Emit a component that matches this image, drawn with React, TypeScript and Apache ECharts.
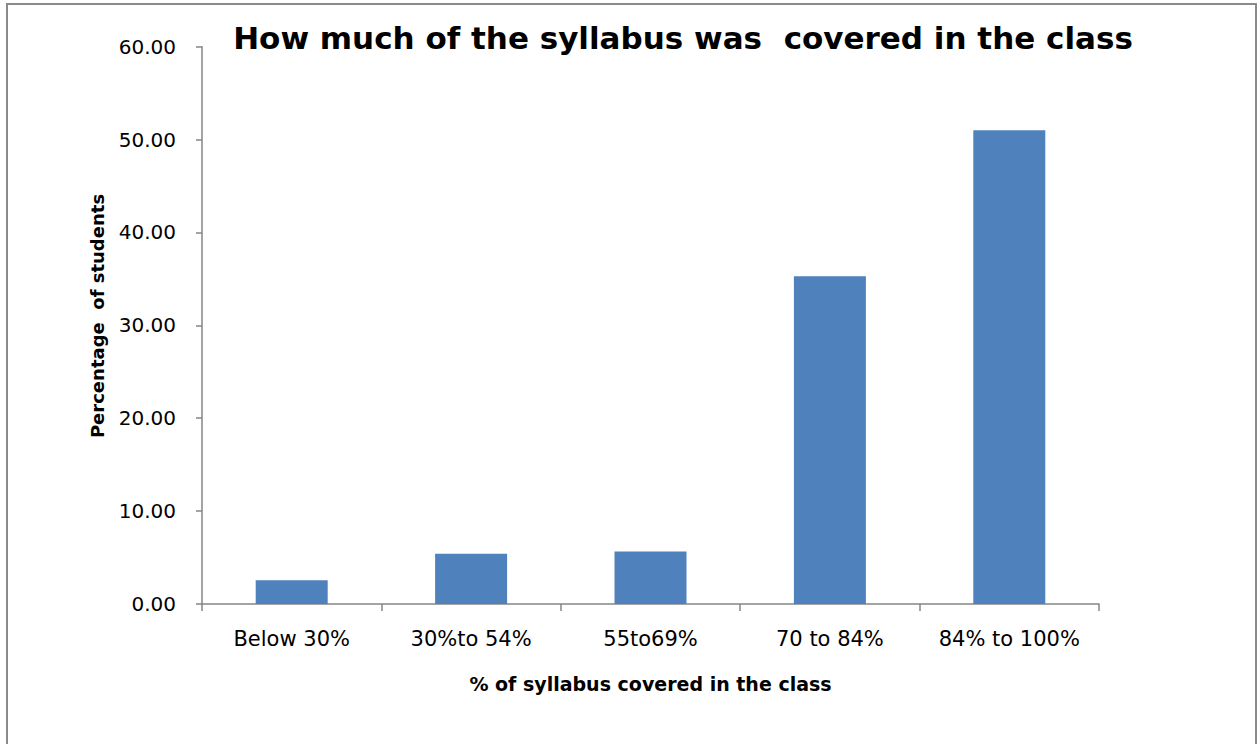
import React, { useEffect, useRef } from "react";
import * as echarts from "echarts";

const categories = ["Below 30%", "30%to 54%", "55to69%", "70 to 84%", "84% to 100%"];
const values = [2.56, 5.42, 5.64, 35.28, 51.0];
const yTicks = { min: 0, max: 60, interval: 10 };
const titleText = "How much of the syllabus was  covered in the class";
const xName = "% of syllabus covered in the class";
const yName = "Percentage  of students";

const FONT = "'DejaVu Sans', sans-serif";

export default function App() {
  const ref = useRef<HTMLDivElement>(null);
  useEffect(() => {
    const chart = echarts.init(ref.current!, null, { renderer: "svg" });
    chart.setOption({
      animation: false,
      backgroundColor: "#ffffff",
      title: {
        text: titleText,
        left: 678,
        textAlign: "center",
        top: 17,
        textStyle: { fontFamily: FONT, fontSize: 31, fontWeight: "bold", color: "#000" },
      },
      graphic: [
        {
          type: "rect",
          shape: { x: 7, y: 4, width: 1249, height: 760 },
          style: { fill: "none", stroke: "#8a8a8a", lineWidth: 2 },
          silent: true,
          z: -1,
        },
        {
          type: "text",
          x: 97,
          y: 316,
          rotation: Math.PI / 2,
          style: {
            text: yName,
            fontFamily: FONT,
            fontSize: 18,
            fontWeight: "bold",
            fill: "#000",
            align: "center",
            verticalAlign: "middle",
          },
        },
      ],
      grid: { left: 202, right: 159, top: 46.7, bottom: 140 },
      xAxis: {
        type: "category",
        data: categories,
        name: xName,
        nameLocation: "middle",
        nameGap: 70,
        nameTextStyle: { fontFamily: FONT, fontSize: 19, fontWeight: "bold", color: "#000" },
        axisLine: { lineStyle: { color: "#868686", width: 1.5 } },
        axisTick: { show: true, interval: 0, length: 7, lineStyle: { color: "#868686", width: 1.5 } },
        axisLabel: { interval: 0, hideOverlap: false, fontFamily: FONT, fontSize: 21, color: "#000", margin: 24 },
      },
      yAxis: {
        type: "value",
        min: yTicks.min,
        max: yTicks.max,
        interval: yTicks.interval,
        axisLine: { show: true, lineStyle: { color: "#868686", width: 1.5 } },
        axisTick: { show: true, length: 6, lineStyle: { color: "#868686", width: 1.5 } },
        splitLine: { show: false },
        axisLabel: {
          fontFamily: FONT,
          fontSize: 20,
          color: "#000",
          margin: 26,
          formatter: (v: number) => v.toFixed(2),
        },
      },
      series: [
        {
          type: "bar",
          data: values,
          barWidth: 72,
          itemStyle: { color: "#4F81BD" },
        },
      ],
    });
    return () => chart.dispose();
  }, []);
  return (
    <div
      ref={ref}
      style={{ position: "fixed", left: 0, top: 0, width: 1258, height: 744 }}
    />
  );
}
